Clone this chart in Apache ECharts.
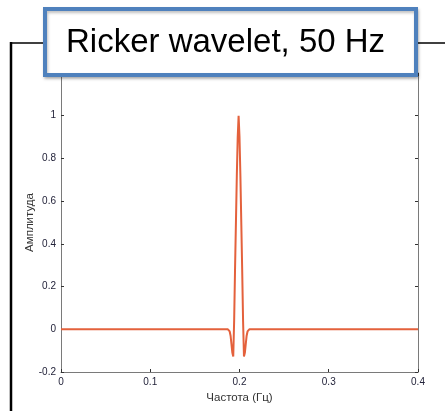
<!DOCTYPE html>
<html>
<head>
<meta charset="utf-8">
<script src="https://cdn.jsdelivr.net/npm/echarts@6/dist/echarts.min.js"></script>
<style>
html,body{margin:0;padding:0;background:#fff;}
#chart{width:445px;height:411px;}
</style>
</head>
<body>
<div id="chart"></div>
<script>
const titleText = 'Ricker wavelet, 50 Hz';
const xName = 'Частота (Гц)';
const yName = 'Амплитуда';
const freq = [0, 0.187, 0.188, 0.189, 0.190, 0.191, 0.192, 0.193, 0.194, 0.195, 0.196, 0.197, 0.198, 0.199,
  0.200, 0.201, 0.202, 0.203, 0.204, 0.205, 0.206, 0.207, 0.208, 0.209, 0.210, 0.211, 0.4];
const amp = [0, 0, -0.003, -0.01, -0.03, -0.07, -0.11, -0.127, 0.04, 0.28, 0.5, 0.72, 0.9, 1.0,
  0.9, 0.72, 0.5, 0.28, 0.04, -0.127, -0.11, -0.07, -0.03, -0.01, -0.003, 0, 0];
const xTicks = [0, 0.1, 0.2, 0.3, 0.4];
const yTicks = [-0.2, 0, 0.2, 0.4, 0.6, 0.8, 1, 1.2];

const chart = echarts.init(document.getElementById('chart'), null, {renderer: 'canvas'});
const axisColor = '#7a7a7a';
const labelColor = '#23233a';
const fontFam = 'Liberation Sans, Arial, sans-serif';
const data = freq.map((f, i) => [f, amp[i]]);

const fmt = v => {
  if (v === 0) return '0';
  return String(Math.round(v * 10) / 10);
};

const option = {
  animation: false,
  backgroundColor: '#fff',
  grid: {left: 61, right: 27, top: 73, bottom: 39, containLabel: false},
  xAxis: [{
    type: 'value', min: xTicks[0], max: xTicks[xTicks.length - 1], interval: 0.1,
    position: 'bottom',
    name: xName, nameLocation: 'middle', nameGap: 20, nameMoveOverlap: false,
    nameTextStyle: {color: '#333', fontFamily: fontFam, fontSize: 11.5},
    axisLine: {show: true, onZero: false, lineStyle: {color: axisColor, width: 1}},
    axisTick: {show: true, inside: true, length: 3, lineStyle: {color: '#333'}},
    axisLabel: {color: labelColor, fontFamily: fontFam, fontSize: 10, margin: 5, formatter: fmt},
    splitLine: {show: false}
  }, {
    type: 'value', min: xTicks[0], max: xTicks[xTicks.length - 1], interval: 0.1,
    position: 'top',
    axisLine: {show: true, onZero: false, lineStyle: {color: axisColor, width: 1}},
    axisTick: {show: true, inside: true, length: 3, lineStyle: {color: '#333'}},
    axisLabel: {show: false}, splitLine: {show: false}
  }],
  yAxis: [{
    type: 'value', min: yTicks[0], max: yTicks[yTicks.length - 1], interval: 0.2,
    position: 'left',
    name: yName, nameLocation: 'middle', nameGap: 25, nameRotate: 90, nameMoveOverlap: false,
    nameTextStyle: {color: '#333', fontFamily: fontFam, fontSize: 11.5},
    axisLine: {show: true, onZero: false, lineStyle: {color: axisColor, width: 1}},
    axisTick: {show: true, inside: true, length: 3, lineStyle: {color: '#333'}},
    axisLabel: {color: labelColor, fontFamily: fontFam, fontSize: 10, margin: 5, formatter: fmt,
      showMaxLabel: false},
    splitLine: {show: false}
  }, {
    type: 'value', min: yTicks[0], max: yTicks[yTicks.length - 1], interval: 0.2,
    position: 'right',
    axisLine: {show: true, onZero: false, lineStyle: {color: axisColor, width: 1}},
    axisTick: {show: true, inside: true, length: 3, lineStyle: {color: '#333'}},
    axisLabel: {show: false}, splitLine: {show: false}
  }],
  series: [{
    type: 'line', data: data, xAxisIndex: 0, yAxisIndex: 0,
    showSymbol: false, symbol: 'none',
    lineStyle: {color: '#e4613c', width: 2},
    z: 5
  }],
  graphic: [
    {type: 'line', z: 100, shape: {x1: 11, y1: 42, x2: 11, y2: 420}, style: {stroke: '#000', lineWidth: 2.5}},
    {type: 'line', z: 100, shape: {x1: 10, y1: 43, x2: 46, y2: 43}, style: {stroke: '#000', lineWidth: 1.5}},
    {type: 'line', z: 100, shape: {x1: 416, y1: 43, x2: 450, y2: 43}, style: {stroke: '#000', lineWidth: 1.5}},
    {type: 'rect', z: 101, shape: {x: 45, y: 9, width: 371, height: 66},
      style: {fill: '#fff', stroke: '#4f81bd', lineWidth: 4,
        shadowBlur: 3, shadowColor: 'rgba(0,0,0,0.25)', shadowOffsetX: 1, shadowOffsetY: 2}},
    {type: 'text', z: 102, x: 66, y: 43,
      style: {text: titleText, fill: '#000', font: '33px Liberation Sans, Arial, sans-serif',
        textVerticalAlign: 'middle', verticalAlign: 'middle'}}
  ]
};
chart.setOption(option);
</script>
</body>
</html>
